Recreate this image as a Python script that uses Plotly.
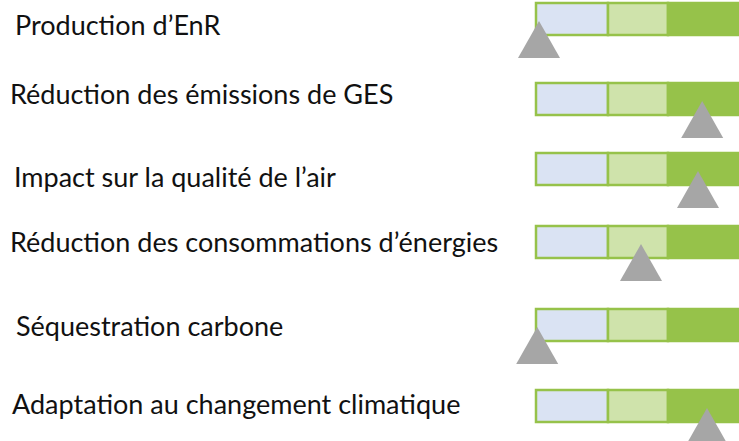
import plotly.graph_objects as go

# ---- data ----
criteria = [
    "Production d’EnR",
    "Réduction des émissions de GES",
    "Impact sur la qualité de l’air",
    "Réduction des consommations d’énergies",
    "Séquestration carbone",
    "Adaptation au changement climatique",
]
segment_lengths = [1.2, 1.0, 1.5]          # light blue, light green, green
scores = [0.05, 2.77, 2.70, 1.75, 0.02, 2.85]  # triangle position on the scale

# ---- layout (pixel positions, styles) ----
W, H = 739, 441
row_y = [19, 99, 169, 242, 325, 406]
label_y = [24, 93, 176, 241, 325, 403]
label_x = [13, 8, 12, 8, 14, 10]
bar_h = 32
px_per_unit = 60.0
bar_left_px = 536
tri_half = 21 / px_per_unit
tri_apex_off = 2
tri_h = 37

seg_fill = ["#DAE3F3", "#CFE3AB", "#96C24A"]
border = "#96C24A"
gray = "#A6A6A6"

fig = go.Figure()

base = 0.0
for i, (ln, col) in enumerate(zip(segment_lengths, seg_fill)):
    fig.add_trace(go.Bar(
        orientation="h",
        y=row_y,
        x=[ln] * len(row_y),
        base=[base] * len(row_y),
        width=bar_h,
        marker=dict(color=col, line=dict(color=border, width=2.5)),
        hoverinfo="skip",
        showlegend=False,
    ))
    base += ln

for s, y in zip(scores, row_y):
    apex = y + tri_apex_off
    fig.add_trace(go.Scatter(
        x=[s - tri_half, s, s + tri_half, s - tri_half],
        y=[apex + tri_h, apex, apex + tri_h, apex + tri_h],
        mode="lines",
        fill="toself",
        fillcolor=gray,
        line=dict(color=gray, width=0),
        hoverinfo="skip",
        showlegend=False,
    ))

for name, lx, ly in zip(criteria, label_x, label_y):
    fig.add_annotation(
        text=name, xref="paper", yref="y",
        x=lx / W, y=ly, xanchor="left", yanchor="middle",
        showarrow=False,
        font=dict(family="Lato, Open Sans, sans-serif", size=27, color="#111111"),
    )

fig.update_layout(
    width=W, height=H,
    margin=dict(l=0, r=0, t=0, b=0),
    paper_bgcolor="white", plot_bgcolor="white",
    barmode="overlay",
    xaxis=dict(range=[-bar_left_px / px_per_unit, (W - bar_left_px) / px_per_unit],
               visible=False, fixedrange=True),
    yaxis=dict(range=[H, 0], visible=False, fixedrange=True),
)

fig.write_html(
    "out.html",
    config={"displayModeBar": False, "staticPlot": True},
    post_script="document.body.style.margin='0';document.body.style.overflow='hidden';",
)
